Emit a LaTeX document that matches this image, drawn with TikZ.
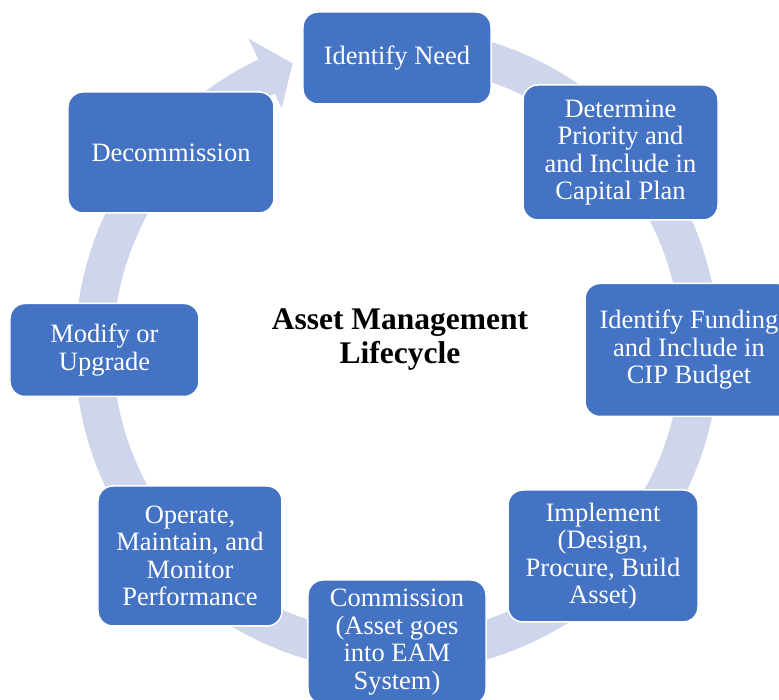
\documentclass[tikz,border=0pt]{standalone}
\usepackage{fontspec}
\setmainfont{Liberation Serif}
\usetikzlibrary{arrows}
\definecolor{qqxxcc}{rgb}{0.27,0.45,0.77}
\definecolor{ccddee}{rgb}{0.81,0.84,0.92}
\tikzset{box/.style={draw=white,line width=1.5pt,fill=qqxxcc,rounded corners=15pt,text=white,align=center,inner sep=2pt,font=\fontsize{26.5}{27.5}\selectfont}}

\begin{document}
\begin{tikzpicture}[line cap=round,line join=round,x=1pt,y=1pt]
				\clip (-397,-350) rectangle (382,350);
				\fill[color=ccddee] (90:322) arc[start angle=90,end angle=-244.5,radius=322] -- (-244.5:345) -- (-250:305) -- (-244.5:268) -- (-244.5:284) arc[start angle=-244.5,end angle=90,radius=284] -- cycle;
				\node[box,minimum width=188,minimum height=92] (need) at (0,292) {Identify Need};
				\node[box,minimum width=195,minimum height=135] (prio) at (223.5,197.5) {Determine\\Priority and\\and Include in\\Capital Plan};
				\node[box,minimum width=208,minimum height=133] (fund) at (292,0) {Identify Funding\\and Include in\\CIP Budget};
				\node[box,minimum width=190,minimum height=132] (impl) at (206,-206) {Implement\\(Design,\\Procure, Build\\Asset)};
				\node[box,minimum width=178,minimum height=124] (comm) at (0,-292) {Commission\\(Asset goes\\into EAM\\System)};
				\node[box,minimum width=184,minimum height=140] (oper) at (-207,-206) {Operate,\\Maintain, and\\Monitor\\Performance};
				\node[box,minimum width=189,minimum height=93] (modi) at (-292.5,0) {Modify or\\Upgrade};
				\node[box,minimum width=206,minimum height=121] (decom) at (-226,197.5) {Decommission};
				\node[font=\fontsize{31.5}{34}\selectfont\bfseries,align=center] (title) at (3,10) {Asset Management\\Lifecycle};
\end{tikzpicture}
\end{document}
